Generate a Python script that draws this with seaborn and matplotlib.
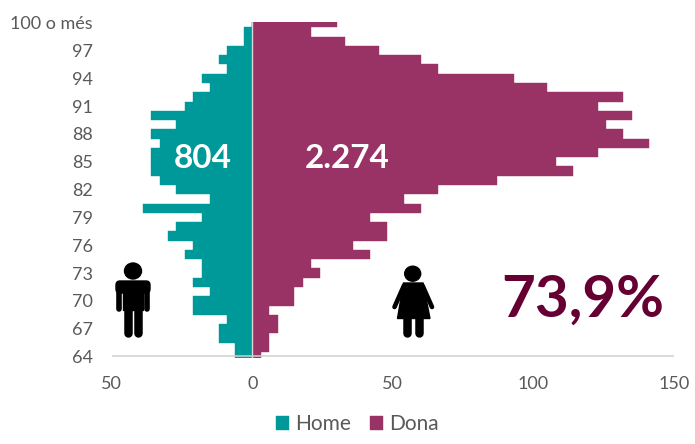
import pandas as pd
import matplotlib
matplotlib.use('Agg')
import matplotlib.pyplot as plt
import seaborn as sns
from matplotlib.lines import Line2D
from matplotlib.patches import Ellipse, Polygon, FancyBboxPatch, Rectangle
from matplotlib.transforms import Affine2D

# Dades, de dalt a baix (100 o mes -> 64)
edats = ['100 o més'] + [str(e) for e in range(99, 63, -1)]
home = [0, 3, 3, 9, 12, 9, 18, 15, 21, 24, 36, 27, 36, 33, 36, 36, 36, 33, 27,
        15, 39, 18, 27, 30, 21, 24, 18, 18, 21, 15, 21, 21, 9, 12, 12, 6, 6]
dona = [30, 21, 33, 45, 60, 66, 93, 105, 132, 123, 135, 126, 132, 141, 123, 108, 114, 87, 66,
        54, 60, 42, 48, 48, 36, 42, 21, 24, 18, 15, 15, 6, 9, 9, 6, 6, 3]
marques_x = [-50, 0, 50, 100, 150]
etiquetes_x = ['50', '0', '50', '100', '150']

df = pd.DataFrame({
    'edat': edats * 2,
    'valor': [-v for v in home] + dona,
    'sexe': ['Home'] * len(edats) + ['Dona'] * len(edats),
})

W, H = 695, 444
sns.set_theme(style='white')
plt.rcParams['font.family'] = ['Lato', 'DejaVu Sans']

fig = plt.figure(figsize=(W / 100, H / 100), dpi=100)
ax = fig.add_axes([111.8 / W, 1 - 357.7 / H, (673.8 - 111.8) / W, (357.7 - 22.3) / H])

sns.barplot(data=df, x='valor', y='edat', hue='sexe', order=edats, orient='y', dodge=False, width=1,
            palette={'Home': '#009999', 'Dona': '#993366'}, saturation=1, linewidth=0, ax=ax)
for barra in ax.patches:
    barra.set_edgecolor(barra.get_facecolor())
    barra.set_linewidth(0.3)

ax.set_xlim(-50, 150)
ax.set_ylim(36.12, -0.04)
ax.set_xlabel('')
ax.set_ylabel('')
ax.set_xticks(marques_x)
ax.set_xticklabels(etiquetes_x)
ax.set_yticks(range(0, len(edats), 3))
ax.set_yticklabels(edats[::3])
ax.tick_params(axis='x', length=0, pad=13, labelsize=13, labelcolor='#595959')
ax.tick_params(axis='y', length=0, pad=13.5, labelsize=13, labelcolor='#595959')
sns.despine(ax=ax, left=True, bottom=True, top=True, right=True)

# eixos
ax.axvline(0, color='#d9d9d9', lw=1, zorder=5)
ax.axhline(35.9, color='#d0d0d0', lw=1.1, zorder=5)

# llegenda
ax.legend(handles=ax.get_legend_handles_labels()[0], labels=['Home', 'Dona'], loc='center',
          bbox_to_anchor=(357.5 / W, 1 - 424 / H), bbox_transform=fig.transFigure, ncol=2, frameon=False,
          fontsize=15, labelcolor='#595959', handlelength=0.6, handleheight=0.66, handletextpad=0.31,
          columnspacing=0.91)

# textos
fig.text(203 / W, 1 - 158 / H, '804', color='white', fontsize=24, fontweight='bold', ha='center', va='center')
fig.text(347 / W, 1 - 158 / H, '2.274', color='white', fontsize=24, fontweight='bold', ha='center', va='center')
fig.text(583 / W, 1 - 300 / H, '73,9%', color='#660033', fontsize=42, fontweight='bold', ha='center', va='center')

# pictogrames en pixels de la figura
px = Affine2D().scale(1 / W, -1 / H).translate(0, 1) + fig.transFigure


def gruix(amp, x0, y0, x1, y1):
    fig.add_artist(Line2D([x0, x1], [y0, y1], color='black', lw=amp * 0.72, solid_capstyle='round', transform=px))


# home
fig.add_artist(Ellipse((133, 271), 17, 16, color='black', transform=px))
fig.add_artist(FancyBboxPatch((120, 285), 26, 4, boxstyle='round,pad=4', color='black', transform=px))
fig.add_artist(Rectangle((123.3, 285), 19.4, 25, color='black', transform=px))
gruix(5.6, 118.8, 288, 118.8, 309)
gruix(5.6, 147.2, 288, 147.2, 309)
gruix(8.5, 127.6, 303, 127.6, 333)
gruix(8.5, 138.4, 303, 138.4, 333)

# dona
fig.add_artist(Ellipse((412.7, 273.7), 16, 15, color='black', transform=px))
fig.add_artist(Polygon([(403.5, 283), (423, 283), (430, 318.5), (397.5, 318.5)], closed=True, color='black', transform=px))
gruix(4.6, 404, 285.5, 394.5, 307)
gruix(4.6, 422.5, 285.5, 432, 307)
gruix(8.5, 407.2, 315, 407.2, 333)
gruix(8.5, 419.2, 315, 419.2, 333)

fig.savefig('out.png', dpi=100)
